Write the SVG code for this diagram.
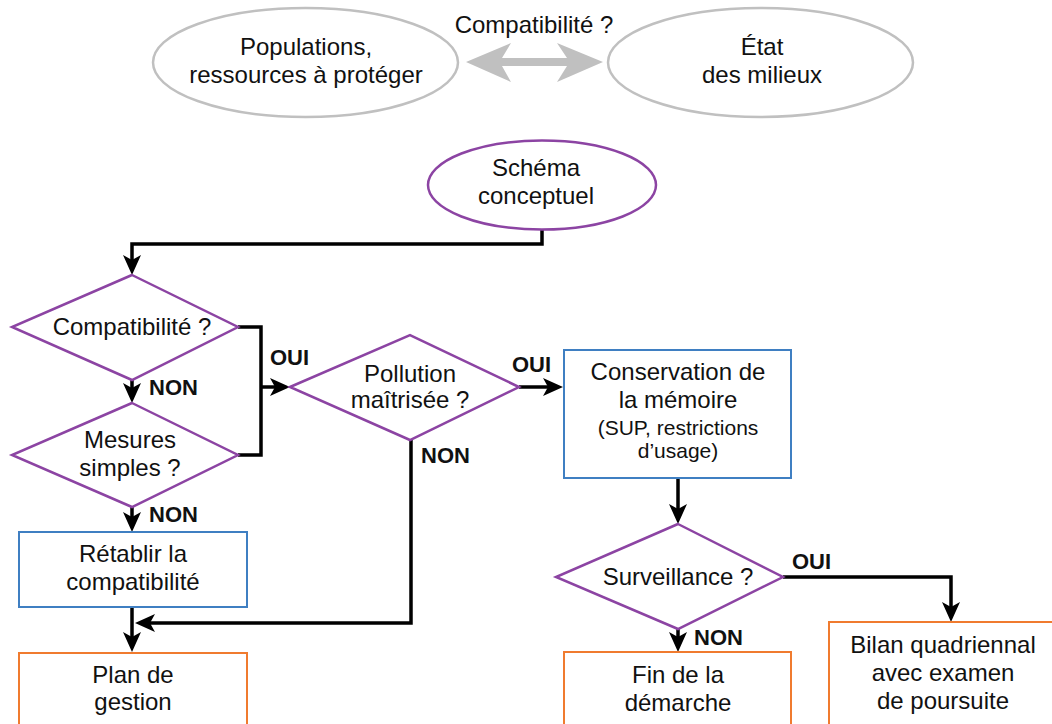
<svg xmlns="http://www.w3.org/2000/svg" width="1052" height="724" viewBox="0 0 1052 724">
<style>
text{font-family:"Liberation Sans",Arial,sans-serif;font-size:24px;fill:#111;text-anchor:middle}
.sm{font-size:21px}
.lbl{font-weight:bold;font-size:22px;text-anchor:start}
.gray{fill:#fff;stroke:#c0c0c0;stroke-width:2.5}
.purple{fill:#fff;stroke:#8c44a3;stroke-width:2.5}
.blue{fill:#fff;stroke:#3f7fc2;stroke-width:2}
.orange{fill:#fff;stroke:#f07b2f;stroke-width:2}
.conn{fill:none;stroke:#000;stroke-width:3.5;marker-end:url(#arr)}
.plain{fill:none;stroke:#000;stroke-width:3.5}
</style>
<defs>
<marker id="arr" markerUnits="userSpaceOnUse" markerWidth="20" markerHeight="18" refX="14" refY="9" orient="auto">
<path d="M0,0 L20,9 L0,18 L5,9 Z" fill="#000"/>
</marker>
</defs>
<rect width="1052" height="724" fill="#fff"/>

<g id="populations">
<ellipse class="gray" cx="305.5" cy="62.5" rx="152.5" ry="54.5"/>
<text x="306" y="55">Populations,</text>
<text x="306" y="83">ressources à protéger</text>
</g>
<g id="etat">
<ellipse class="gray" cx="760.5" cy="62.5" rx="152.5" ry="54.5"/>
<text x="762" y="55">État</text>
<text x="762" y="83">des milieux</text>
</g>
<g id="compat-top">
<polygon fill="#c0c0c0" points="466,62 511,43 502,58 567,58 557,43 603,62 557,82 567,66 502,66 511,82"/>
<text x="534" y="33">Compatibilité ?</text>
</g>

<g id="connectors">
<path class="conn" d="M542,229 V244 H132 V269"/>
<path class="conn" d="M132,380 V397"/>
<path class="plain" d="M238,327 H261 V455 H238"/>
<path class="conn" d="M261,387 H284"/>
<path class="conn" d="M519,387 H557"/>
<path class="conn" d="M411,440 V623 H141"/>
<path class="conn" d="M132,507 V526"/>
<path class="conn" d="M132,607 V646"/>
<path class="conn" d="M678,478 V518"/>
<path class="conn" d="M783,577 H951 V616"/>
<path class="conn" d="M678,629 V646"/>
<text class="lbl" x="149" y="395">NON</text>
<text class="lbl" x="149" y="522">NON</text>
<text class="lbl" x="270" y="365">OUI</text>
<text class="lbl" x="512" y="372">OUI</text>
<text class="lbl" x="421" y="463">NON</text>
<text class="lbl" x="792" y="569">OUI</text>
<text class="lbl" x="694" y="645">NON</text>
</g>

<g id="schema">
<ellipse class="purple" cx="542" cy="185" rx="114" ry="44.5"/>
<text x="536" y="176">Schéma</text>
<text x="536" y="204">conceptuel</text>
</g>
<g id="compatibilite">
<polygon class="purple" points="132,275 238,327 132,380 12,327"/>
<text x="132" y="335">Compatibilité ?</text>
</g>
<g id="mesures">
<polygon class="purple" points="132,403 238,455 132,507 12,455"/>
<text x="130" y="448">Mesures</text>
<text x="130" y="476">simples ?</text>
</g>
<g id="pollution">
<polygon class="purple" points="290,387 410,335 519,387 410,440"/>
<text x="410" y="382">Pollution</text>
<text x="410" y="408">maîtrisée ?</text>
</g>
<g id="conservation">
<rect class="blue" x="564" y="350" width="227" height="128"/>
<text x="678" y="380">Conservation de</text>
<text x="678" y="408">la mémoire</text>
<text class="sm" x="678" y="435">(SUP, restrictions</text>
<text class="sm" x="678" y="458">d’usage)</text>
</g>
<g id="surveillance">
<polygon class="purple" points="678,524 783,577 678,629 556,577"/>
<text x="678" y="585">Surveillance ?</text>
</g>
<g id="retablir">
<rect class="blue" x="19" y="532" width="228" height="75"/>
<text x="133" y="562">Rétablir la</text>
<text x="133" y="590">compatibilité</text>
</g>
<g id="plan">
<rect class="orange" x="19" y="653" width="228" height="100"/>
<text x="133" y="683">Plan de</text>
<text x="133" y="710">gestion</text>
</g>
<g id="fin">
<rect class="orange" x="564" y="652" width="227" height="100"/>
<text x="678" y="683">Fin de la</text>
<text x="678" y="711">démarche</text>
</g>
<g id="bilan">
<rect class="orange" x="829" y="622" width="240" height="130"/>
<text x="943" y="653">Bilan quadriennal</text>
<text x="943" y="681">avec examen</text>
<text x="943" y="709">de poursuite</text>
</g>
</svg>
